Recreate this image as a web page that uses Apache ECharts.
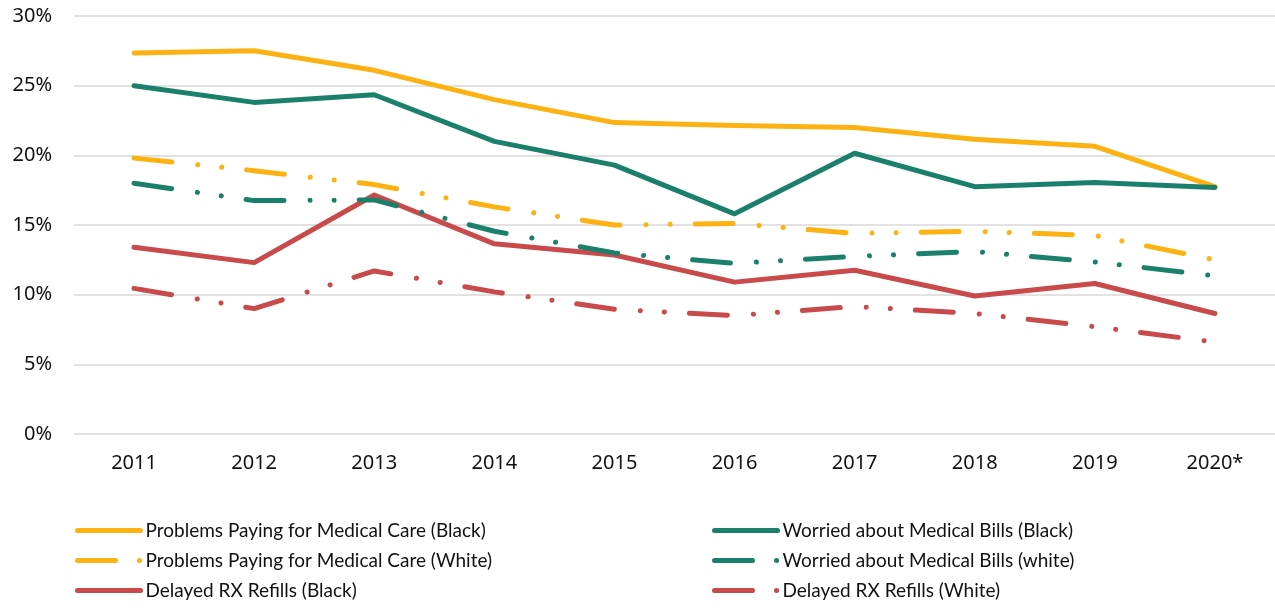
<!DOCTYPE html>
<html lang="en">
<head>
    <meta charset="UTF-8">
    <title>Medical cost problems by race</title>
    <style>
        html, body { margin: 0; padding: 0; background: #fff; }
        #chart { width: 1275px; height: 609px; }
    </style>
    <script src="https://cdn.jsdelivr.net/npm/echarts@6/dist/echarts.min.js"></script>
</head>
<body>
<div id="chart"></div>
<script>
    // data (percent)
    var years = ["2011", "2012", "2013", "2014", "2015", "2016", "2017", "2018", "2019", "2020*"];
    var yTicks = [0, 5, 10, 15, 20, 25, 30];

    var payBlack = [27.35, 27.5, 26.1, 24.0, 22.35, 22.15, 22.0, 21.15, 20.65, 17.75];
    var payWhite = [19.8, 18.9, 17.9, 16.3, 15.0, 15.1, 14.4, 14.55, 14.25, 12.5];
    var billsBlack = [25.0, 23.8, 24.35, 21.0, 19.3, 15.8, 20.15, 17.75, 18.05, 17.7];
    var billsWhite = [18.0, 16.75, 16.8, 14.55, 13.0, 12.25, 12.75, 13.1, 12.35, 11.35];
    var rxBlack = [13.4, 12.3, 17.15, 13.65, 12.85, 10.9, 11.75, 9.9, 10.8, 8.65];
    var rxWhite = [10.45, 9.0, 11.7, 10.2, 8.95, 8.5, 9.15, 8.65, 7.7, 6.6];

    var names = [
        "Problems Paying for Medical Care (Black)",
        "Problems Paying for Medical Care (White)",
        "Delayed RX Refills (Black)",
        "Worried about Medical Bills (Black)",
        "Worried about Medical Bills (white)",
        "Delayed RX Refills (White)"
    ];
    var dashedNames = [names[1], names[4], names[5]];

    var orange = "#FDB214";
    var green = "#1B806B";
    var red = "#C94A4A";
    var axisFont = "Noto Sans";
    var legendFont = "Lato";
    var dashDot = [38, 26, 0.1, 24, 0.1, 25];
    var legendDash = [38, 24, 0.1, 100];

    function line(name, data, color, dashed) {
        return {
            name: name,
            type: "line",
            data: data,
            showSymbol: false,
            symbol: "none",
            smooth: false,
            lineStyle: {
                color: color,
                width: 5,
                cap: "round",
                join: "round",
                type: dashed ? dashDot : "solid"
            },
            itemStyle: { color: color },
            emphasis: { disabled: true }
        };
    }

    function legendCol(items, left) {
        return {
            data: items.map(function (n) {
                if (dashedNames.indexOf(n) >= 0) {
                    return { name: n, lineStyle: { type: legendDash } };
                }
                return { name: n };
            }),
            orient: "vertical",
            left: left,
            top: 521,
            padding: 0,
            itemWidth: 63,
            itemHeight: 10,
            itemGap: 11,
            itemStyle: { opacity: 0 },
            lineStyle: { width: 5, cap: "round" },
            textStyle: { fontFamily: legendFont, fontSize: 19, color: "#111" }
        };
    }

    var chart = echarts.init(document.getElementById("chart"));
    var option = {
        animation: false,
        grid: { left: 74, right: 0, top: 16, bottom: 175, containLabel: false },
        legend: [
            legendCol(names.slice(0, 3), 75),
            legendCol(names.slice(3), 712)
        ],
        xAxis: {
            type: "category",
            data: years,
            boundaryGap: true,
            axisLine: { show: false },
            axisTick: { show: false },
            axisLabel: { fontFamily: axisFont, fontSize: 20, color: "#111", margin: 19 }
        },
        yAxis: {
            type: "value",
            min: yTicks[0],
            max: yTicks[yTicks.length - 1],
            interval: 5,
            axisLine: { show: false },
            axisTick: { show: false },
            axisLabel: {
                fontFamily: axisFont, fontSize: 20, color: "#111", margin: 22,
                formatter: function (v) { return v + "%"; }
            },
            splitLine: { lineStyle: { color: "#D9D9D9", width: 1.5 } }
        },
        series: [
            line(names[0], payBlack, orange, false),
            line(names[1], payWhite, orange, true),
            line(names[2], rxBlack, red, false),
            line(names[3], billsBlack, green, false),
            line(names[4], billsWhite, green, true),
            line(names[5], rxWhite, red, true)
        ]
    };
    chart.setOption(option);
</script>
</body>
</html>
